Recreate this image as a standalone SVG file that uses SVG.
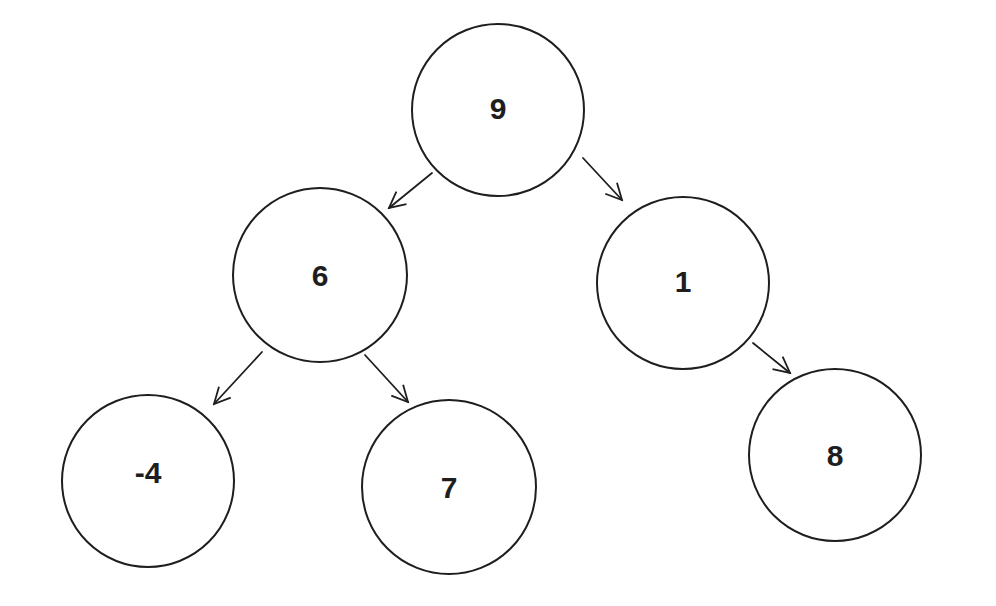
<svg xmlns="http://www.w3.org/2000/svg" width="996" height="606" viewBox="0 0 996 606">
<style>
.n circle{fill:none;stroke:#1e1e1e;stroke-width:2}
.n text{font-family:"Liberation Sans",sans-serif;font-size:30px;font-weight:bold;fill:#1e1e1e;text-anchor:middle;dominant-baseline:central}
.c line{stroke:#1e1e1e;stroke-width:1.8;stroke-linecap:round}
</style>
<defs><marker id="a" viewBox="0 0 20 20" refX="18" refY="10" markerWidth="20" markerHeight="20" markerUnits="userSpaceOnUse" orient="auto"><path d="M2,2 L18,10 L2,18" fill="none" stroke="#1e1e1e" stroke-width="1.8"/></marker></defs>
<rect width="996" height="606" fill="#fff"/>
<g class="c">
<line x1="432" y1="173" x2="389" y2="208" marker-end="url(#a)"/>
<line x1="583" y1="158" x2="622" y2="200" marker-end="url(#a)"/>
<line x1="262" y1="352" x2="214" y2="404" marker-end="url(#a)"/>
<line x1="365" y1="355" x2="408" y2="402" marker-end="url(#a)"/>
<line x1="753" y1="343" x2="790" y2="373" marker-end="url(#a)"/>
</g>
<g id="n9" class="n"><circle cx="498" cy="110" r="86"/><text x="498" y="108">9</text></g>
<g id="n6" class="n"><circle cx="320" cy="275" r="87"/><text x="320" y="275">6</text></g>
<g id="n1" class="n"><circle cx="683" cy="283" r="86"/><text x="683" y="281">1</text></g>
<g id="nm4" class="n"><circle cx="148" cy="481" r="86"/><text x="148" y="472">-4</text></g>
<g id="n7" class="n"><circle cx="449" cy="487" r="87"/><text x="449" y="487">7</text></g>
<g id="n8" class="n"><circle cx="835" cy="455" r="86"/><text x="835" y="455">8</text></g>
</svg>
